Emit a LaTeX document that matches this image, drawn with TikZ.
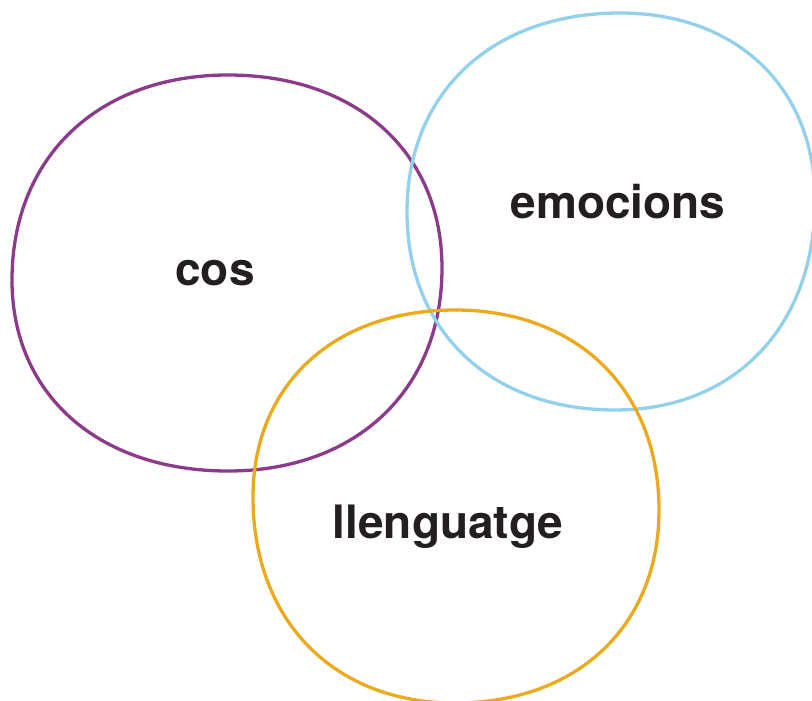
\documentclass[tikz,border=0pt]{standalone}
\usepackage{fontspec}
\setmainfont{TeX Gyre Heros}
\definecolor{cpurple}{HTML}{8C3A89}
\definecolor{cblue}{HTML}{92D0EC}
\definecolor{corange}{HTML}{ECA91C}
\definecolor{ctext}{HTML}{231F20}
\begin{document}
\begin{tikzpicture}[x=1pt,y=-1pt,
  blob/.style={line width=3.3pt},
  lbl/.style={font=\fontsize{46}{50}\selectfont\bfseries, text=ctext, anchor=base, inner sep=0pt}]
\useasboundingbox (0,0) rectangle (812,701);
\def\k{0.6}
% purple
\draw[blob,cpurple] (12,280) .. controls +(0,-\k*205) and +(-\k*216,0) .. (228,75)
  .. controls +(\k*214,0) and +(0,-\k*193) .. (442,268)
  .. controls +(0,\k*203) and +(\k*214,0) .. (228,471)
  .. controls +(-\k*216,0) and +(0,\k*191) .. cycle;
% blue
\draw[blob,cblue] (407,212) .. controls +(0,-\k*199) and +(-\k*213,0) .. (620,13)
  .. controls +(\k*195,0) and +(0,-\k*187) .. (815,200)
  .. controls +(0,\k*210) and +(\k*200,0) .. (615,410)
  .. controls +(-\k*208,0) and +(0,\k*198) .. cycle;
% orange
\draw[blob,corange] (253,497) .. controls +(0,-\k*187) and +(-\k*202,0) .. (455,310)
  .. controls +(\k*204,0) and +(0,-\k*200) .. (659,510)
  .. controls +(0,\k*193) and +(\k*204,0) .. (455,703)
  .. controls +(-\k*202,0) and +(0,\k*206) .. cycle;
\node[lbl] (cos) at (215,285) {cos};
\node[lbl] (emo) at (618,218) {emocions};
\node[lbl] (llen) at (448,538) {llenguatge};
\end{tikzpicture}
\end{document}
